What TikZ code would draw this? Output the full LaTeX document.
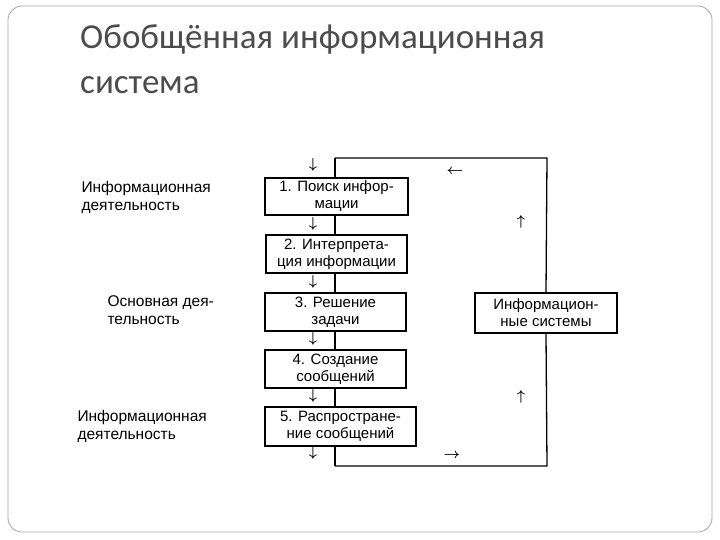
\documentclass[tikz,border=0pt]{standalone}
\usepackage{fontspec}
\setmainfont{Liberation Sans}
\newfontfamily\titlefont{Carlito}
\begin{document}
\begin{tikzpicture}[x=1pt,y=-1pt,
  blk/.style={draw,line width=1.4pt,inner sep=0pt,align=center,font=\fontsize{15}{17}\selectfont},
  lbl/.style={align=left,font=\fontsize{15.5}{18}\selectfont,anchor=north west},
  ln/.style={line width=1.3pt},
  sym/.style={font=\fontsize{14}{14}\selectfont\boldmath,inner sep=0pt}]
\useasboundingbox (0,0) rectangle (720,540);
\draw[gray!70,line width=0.8pt,rounded corners=14] (8,6) rectangle (712,532);
\node[anchor=north west,align=left,inner sep=0pt,text=black!70,font=\titlefont\fontsize{35}{45}\selectfont] (t) at (80,24) {Обобщённая информационная\\система};
% loop line
\coordinate (tl) at (335,158);
\coordinate (tr) at (547,158);
\coordinate (bl) at (335,466);
\coordinate (br) at (547,466);
\draw[ln] (tl) -- (bl);
\node[blk,fill=white,minimum width=143,minimum height=37] (b1) at (336.5,196.5) {1. Поиск инфор-\\мации};
\node[blk,fill=white,minimum width=141,minimum height=38] (b2) at (336.5,254) {2. Интерпрета-\\ция информации};
\node[blk,fill=white,minimum width=141,minimum height=38] (b3) at (335.5,312) {3. Решение\\задачи};
\node[blk,fill=white,minimum width=141,minimum height=38] (b4) at (335.5,369) {4. Создание\\сообщений};
\node[blk,fill=white,minimum width=151,minimum height=39] (b5) at (340.5,426.5) {5. Распростране-\\ние сообщений};
\node[blk,fill=white,minimum width=142,minimum height=40] (is) at (546,313) {Информацион-\\ные системы};
\draw[ln] (is.north) -- (tr) -- (tl);
\draw[ln] (is.south) -- (br) -- (bl);
% small arrows
\foreach \n/\yy in {a1/165,a2/224,a3/282,a4/339,a5/396,a6/453}
  \node[sym] (\n) at (313,\yy) {$\downarrow$};
\node[sym] (l1) at (455,172) {$\leftarrow$};
\node[sym] (u1) at (521,222) {$\uparrow$};
\node[sym] (u2) at (521,397) {$\uparrow$};
\node[sym] (r1) at (452,456) {$\rightarrow$};
% left labels
\node[lbl] (t1) at (78,178) {Информационная\\деятельность};
\node[lbl] (t2) at (104,292) {Основная дея-\\тельность};
\node[lbl] (t3) at (74,407) {Информационная\\деятельность};
\end{tikzpicture}
\end{document}
